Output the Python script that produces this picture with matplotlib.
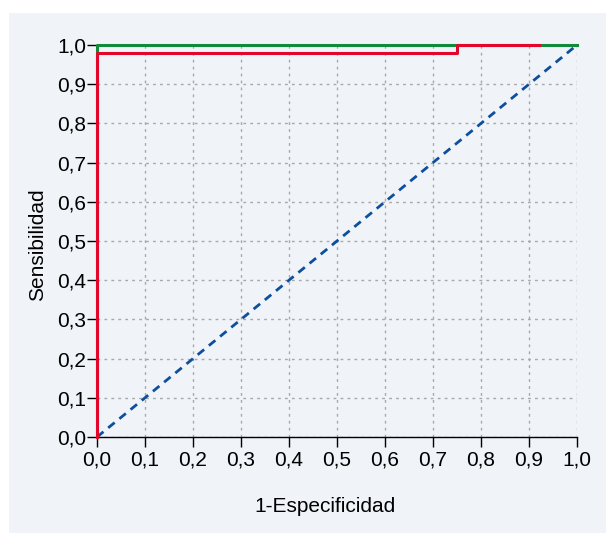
"""
ROC curves: sensitivity vs 1-specificity.
"""

import matplotlib.pyplot as plt
from matplotlib.patches import Rectangle
from matplotlib.ticker import FuncFormatter

plt.rcParams['font.family'] = ['Liberation Sans', 'DejaVu Sans']

# curve points (1-specificity, sensitivity)
green_x = [0.0, 0.0, 1.0]
green_y = [0.0, 1.0, 1.0]
red_x = [0.0, 0.0, 0.75, 0.75, 0.92]
red_y = [0.0, 0.98, 0.98, 1.0, 1.0]
diag = [0.0, 1.0]
ticks = [i / 10 for i in range(11)]

bg = '#f0f4f8'

fig = plt.figure(figsize=(6.06, 5.33), dpi=100)
fig.patch.set_facecolor('white')
fig.add_artist(Rectangle((9 / 606, 0), 1, 1 - 13 / 533, transform=fig.transFigure,
                         facecolor=bg, edgecolor='none', zorder=-10))

ax = fig.add_axes([97 / 606, 96 / 533, 480 / 606, 392 / 533])
ax.set_facecolor(bg)

ax.plot(diag, diag, color='#0d4f9e', linewidth=2, linestyle=(0, (3, 2.2)), zorder=3)
ax.plot(green_x, green_y, color='#118a3c', linewidth=2.2, zorder=4, clip_on=False)
ax.plot(red_x, red_y, color='#e3062b', linewidth=2.2, zorder=5, clip_on=False)

ax.set_xlim(0, 1)
ax.set_ylim(0, 1)
ax.set_xticks(ticks)
ax.set_yticks(ticks)
fmt = FuncFormatter(lambda v, _: f'{v:.1f}'.replace('.', ','))
ax.xaxis.set_major_formatter(fmt)
ax.yaxis.set_major_formatter(fmt)
ax.tick_params(direction='out', length=7, width=1, labelsize=15, colors='black')
ax.tick_params(axis='x', pad=3)
ax.tick_params(axis='y', pad=1)
ax.grid(True, color='#a8a8a8', linestyle=(0, (2, 3)), linewidth=1)
ax.set_axisbelow(True)

for side in ('top', 'right'):
    ax.spines[side].set_visible(False)
for side in ('left', 'bottom'):
    ax.spines[side].set_color('black')
    ax.spines[side].set_linewidth(1)

ax.set_xlabel('1-Especificidad', fontsize=15)
ax.set_ylabel('Sensibilidad', fontsize=15)
ax.xaxis.set_label_coords(0.475, -0.153)
ax.yaxis.set_label_coords(-0.104, 0.49)

fig.savefig('out.png', dpi=100, facecolor=fig.get_facecolor())
